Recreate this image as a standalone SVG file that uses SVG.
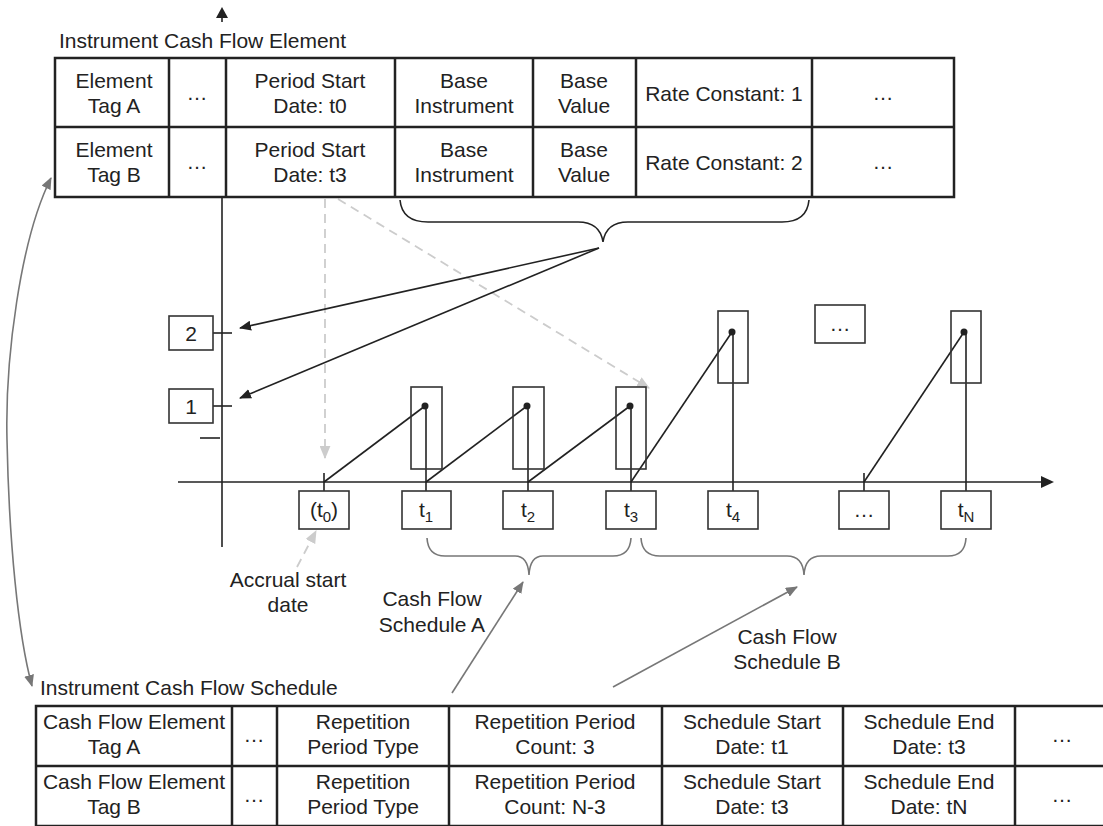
<svg xmlns="http://www.w3.org/2000/svg" width="1103" height="826" viewBox="0 0 1103 826">
<style>
text{font-family:"Liberation Sans",Arial,sans-serif;font-size:21px;fill:#222}
.c{text-anchor:middle}
.tb{fill:#fff;stroke:#222;stroke-width:2.5}
.tl{stroke:#222;stroke-width:2.5;fill:none}
.ln{stroke:#222;stroke-width:1.6;fill:none}
.bx{fill:#fff;stroke:#333;stroke-width:1.6}
.fr{fill:none;stroke:#333;stroke-width:1.6}
.gr{stroke:#777;stroke-width:1.6;fill:none}
.da{stroke:#ccc;stroke-width:1.8;fill:none;stroke-dasharray:9,6}
.sub{font-size:15px}
</style>
<defs>
<marker id="ab" viewBox="0 0 12 10" refX="11" refY="5" markerWidth="12" markerHeight="10" markerUnits="userSpaceOnUse" orient="auto"><path d="M0,0L12,5L0,10z" fill="#222"/></marker>
<marker id="ag" viewBox="0 0 12 10" refX="11" refY="5" markerWidth="12" markerHeight="10" markerUnits="userSpaceOnUse" orient="auto-start-reverse"><path d="M0,0L12,5L0,10z" fill="#777"/></marker>
<marker id="al" viewBox="0 0 12 10" refX="11" refY="5" markerWidth="13" markerHeight="11" markerUnits="userSpaceOnUse" orient="auto"><path d="M0,0L12,5L0,10z" fill="#ccc"/></marker>
</defs>

<g id="axes">
<line class="ln" x1="222" y1="197" x2="222" y2="547"/>
<line class="ln" x1="222" y1="22" x2="222" y2="16"/>
<path d="M216,18L222,7L228,18z" fill="#222"/>
<line class="ln" x1="178" y1="482" x2="1042" y2="482"/>
<path d="M1041,476L1054,482L1041,488z" fill="#222"/>
<line class="ln" x1="213" y1="333" x2="232" y2="333"/>
<line class="ln" x1="213" y1="406" x2="232" y2="406"/>
<line class="ln" x1="200" y1="438" x2="220" y2="438"/>
</g>

<g id="connectors">
<line class="da" x1="325" y1="199" x2="325" y2="458" marker-end="url(#al)"/>
<line class="da" x1="338" y1="199" x2="649" y2="388" marker-end="url(#al)"/>
<line class="da" x1="297" y1="567" x2="316" y2="531" marker-end="url(#al)"/>
<path class="ln" d="M400,200 Q402,222 428,222 L578,222 Q600,222 603,242 Q606,222 628,222 L782,222 Q807,222 809,200"/>
<line class="ln" x1="599" y1="248" x2="240" y2="328" marker-end="url(#ab)"/>
<line class="ln" x1="599" y1="248" x2="240" y2="398" marker-end="url(#ab)"/>
<path class="gr" d="M427,538 Q428,556 445,556 L515,556 Q528,556 529,575 Q530,556 543,556 L613,556 Q630,556 631,538"/>
<path class="gr" d="M641,538 Q642,556 660,556 L787,556 Q803,556 804,575 Q805,556 821,556 L948,556 Q965,556 966,538"/>
<line class="gr" x1="452" y1="693" x2="523" y2="582" marker-end="url(#ag)"/>
<line class="gr" x1="613" y1="687" x2="797" y2="587" marker-end="url(#ag)"/>
<path class="gr" d="M51,178 C20,240 5,360 7,440 C9,540 18,635 32,686" marker-start="url(#ag)" marker-end="url(#ag)"/>
<line class="ln" x1="324" y1="473" x2="324" y2="491"/>
<line class="ln" x1="864" y1="473" x2="864" y2="491"/>
<line class="ln" x1="426" y1="406" x2="426" y2="491"/>
<line class="ln" x1="528" y1="406" x2="528" y2="491"/>
<line class="ln" x1="631" y1="406" x2="631" y2="491"/>
<line class="ln" x1="733" y1="332" x2="733" y2="491"/>
<line class="ln" x1="966" y1="332" x2="966" y2="491"/>
<line class="ln" x1="324" y1="482" x2="425" y2="406"/>
<line class="ln" x1="426" y1="482" x2="527" y2="406"/>
<line class="ln" x1="528" y1="482" x2="630" y2="406"/>
<line class="ln" x1="631" y1="482" x2="732" y2="332"/>
<line class="ln" x1="864" y1="482" x2="964" y2="332"/>
</g>

<g id="flow-t1"><rect class="fr" x="411" y="387" width="31" height="82"/><circle cx="425" cy="406" r="3.5" fill="#222"/></g>
<g id="flow-t2"><rect class="fr" x="513" y="387" width="31" height="82"/><circle cx="527" cy="406" r="3.5" fill="#222"/></g>
<g id="flow-t3"><rect class="fr" x="616" y="387" width="30" height="82"/><circle cx="630" cy="406" r="3.5" fill="#222"/></g>
<g id="flow-t4"><rect class="fr" x="718" y="311" width="30" height="72"/><circle cx="732" cy="332" r="3.5" fill="#222"/></g>
<g id="flow-tN"><rect class="fr" x="951" y="311" width="30" height="72"/><circle cx="964" cy="332" r="3.5" fill="#222"/></g>
<g id="flow-more"><rect class="bx" x="815" y="305" width="50" height="38"/><text class="c" x="840" y="331">…</text></g>

<g id="rate-2"><rect class="bx" x="169" y="316" width="44" height="34"/><text class="c" x="191" y="341">2</text></g>
<g id="rate-1"><rect class="bx" x="169" y="389" width="44" height="34"/><text class="c" x="191" y="414">1</text></g>

<g id="date-t0"><rect class="bx" x="299" y="491" width="50" height="38"/><text class="c" x="324" y="517">(t<tspan class="sub" dy="5">0</tspan><tspan dy="-5">)</tspan></text></g>
<g id="date-t1"><rect class="bx" x="402" y="491" width="49" height="38"/><text class="c" x="426" y="517">t<tspan class="sub" dy="5">1</tspan></text></g>
<g id="date-t2"><rect class="bx" x="503" y="491" width="50" height="38"/><text class="c" x="528" y="517">t<tspan class="sub" dy="5">2</tspan></text></g>
<g id="date-t3"><rect class="bx" x="606" y="491" width="50" height="38"/><text class="c" x="631" y="517">t<tspan class="sub" dy="5">3</tspan></text></g>
<g id="date-t4"><rect class="bx" x="708" y="491" width="50" height="38"/><text class="c" x="733" y="517">t<tspan class="sub" dy="5">4</tspan></text></g>
<g id="date-more"><rect class="bx" x="839" y="491" width="50" height="38"/><text class="c" x="864" y="517">…</text></g>
<g id="date-tN"><rect class="bx" x="941" y="491" width="50" height="38"/><text class="c" x="966" y="517">t<tspan class="sub" dy="5">N</tspan></text></g>

<g id="labels">
<text class="c" x="288" y="587">Accrual start</text>
<text class="c" x="288" y="612">date</text>
<text class="c" x="432" y="606">Cash Flow</text>
<text class="c" x="432" y="632">Schedule A</text>
<text class="c" x="787" y="644">Cash Flow</text>
<text class="c" x="787" y="669">Schedule B</text>
</g>

<g id="element-table">
<text x="59" y="48">Instrument Cash Flow Element</text>
<rect class="tb" x="55" y="58" width="899" height="139"/>
<path class="tl" d="M55,127H954M169,58V197M226,58V197M395,58V197M533,58V197M636,58V197M812,58V197"/>
<text class="c" x="114" y="88">Element</text><text class="c" x="114" y="113">Tag A</text>
<text class="c" x="197" y="100">…</text>
<text class="c" x="310" y="88">Period Start</text><text class="c" x="310" y="113">Date: t0</text>
<text class="c" x="464" y="88">Base</text><text class="c" x="464" y="113">Instrument</text>
<text class="c" x="584" y="88">Base</text><text class="c" x="584" y="113">Value</text>
<text class="c" x="724" y="101">Rate Constant: 1</text>
<text class="c" x="883" y="100">…</text>
<text class="c" x="114" y="157">Element</text><text class="c" x="114" y="182">Tag B</text>
<text class="c" x="197" y="169">…</text>
<text class="c" x="310" y="157">Period Start</text><text class="c" x="310" y="182">Date: t3</text>
<text class="c" x="464" y="157">Base</text><text class="c" x="464" y="182">Instrument</text>
<text class="c" x="584" y="157">Base</text><text class="c" x="584" y="182">Value</text>
<text class="c" x="724" y="170">Rate Constant: 2</text>
<text class="c" x="883" y="169">…</text>
</g>

<g id="schedule-table">
<text x="40" y="695">Instrument Cash Flow Schedule</text>
<rect class="tb" x="36" y="706" width="1075" height="120"/>
<path class="tl" d="M36,766H1111M232,706V826M277,706V826M449,706V826M662,706V826M843,706V826M1015,706V826"/>
<text class="c" x="134" y="729">Cash Flow Element</text><text class="c" x="114" y="754">Tag A</text>
<text class="c" x="254" y="742">…</text>
<text class="c" x="363" y="729">Repetition</text><text class="c" x="363" y="754">Period Type</text>
<text class="c" x="555" y="729">Repetition Period</text><text class="c" x="555" y="754">Count: 3</text>
<text class="c" x="752" y="729">Schedule Start</text><text class="c" x="752" y="754">Date: t1</text>
<text class="c" x="929" y="729">Schedule End</text><text class="c" x="929" y="754">Date: t3</text>
<text class="c" x="1062" y="742">…</text>
<text class="c" x="134" y="789">Cash Flow Element</text><text class="c" x="114" y="814">Tag B</text>
<text class="c" x="254" y="802">…</text>
<text class="c" x="363" y="789">Repetition</text><text class="c" x="363" y="814">Period Type</text>
<text class="c" x="555" y="789">Repetition Period</text><text class="c" x="555" y="814">Count: N-3</text>
<text class="c" x="752" y="789">Schedule Start</text><text class="c" x="752" y="814">Date: t3</text>
<text class="c" x="929" y="789">Schedule End</text><text class="c" x="929" y="814">Date: tN</text>
<text class="c" x="1062" y="802">…</text>
</g>
</svg>
